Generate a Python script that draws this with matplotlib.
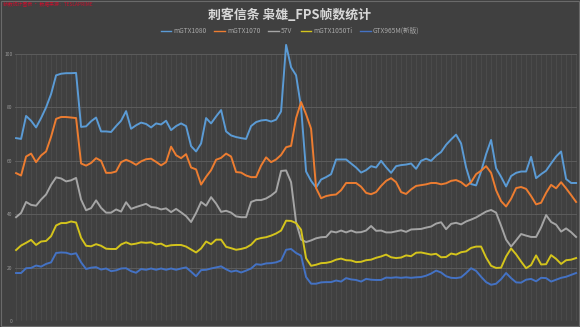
import matplotlib
matplotlib.use("Agg")
import matplotlib.pyplot as plt
from matplotlib.patches import Rectangle

plt.rcParams['font.family'] = ['Noto Sans CJK SC', 'DejaVu Sans']

title = "刺客信条 枭雄_FPS帧数统计"
watermark = "帧数统计图表 · 数据来源：TESLAPRIME"
series_names = ["mGTX1080", "mGTX1070", "57V", "mGTX1050Ti", "GTX965M(新版)"]
colors = ["#5B9BD5", "#ED7D31", "#A5A5A5", "#D4C41C", "#4472C4"]
y_ticks = [0, 20, 40, 60, 80, 100]

gtx1080 = [68.5, 68.2, 76.8, 75, 72.5, 76, 80, 85, 92, 92.6, 92.8, 92.8, 92.9, 72.7, 72.9, 74.8, 76.2, 71, 71, 70.8,
           73, 75, 78.6, 72, 73.3, 74.3, 73.8, 72.5, 74, 73.6, 75, 71.5, 73, 74, 73, 65.5, 63.5, 66.5, 76, 74,
           76.6, 79, 71, 69.5, 68.9, 68.5, 68.2, 73, 74.5, 75.1, 75.3, 74.7, 75.4, 78.5, 103.4, 95, 92, 80, 56, 52.5,
           50, 53, 53.9, 55, 60.5, 60.5, 60.5, 59, 57.5, 55.6, 56.5, 58, 57.5, 60, 57.6, 55.5, 58, 58.4, 58.6, 59,
           57, 60, 60.8, 60, 61.9, 63.3, 66, 68, 69.8, 66.5, 57.5, 51.3, 50.8, 56, 62.5, 67.8, 57.2, 54, 50.4, 54.3,
           55.5, 56, 56, 61.5, 53.5, 55, 56.3, 59, 61.6, 63.5, 53.2, 51.7, 51.7]

gtx1070 = [55.4, 54.5, 61.6, 62.7, 59.5, 62, 63.5, 69, 75.7, 76.4, 76.4, 76.2, 76, 59, 58.2, 59.2, 61, 60, 55.5, 55.5,
           56, 59.5, 60.4, 59.6, 58.5, 59.8, 60.6, 60.8, 59.6, 58.3, 59.5, 65.3, 62.1, 61, 62.5, 57.5, 56.8, 51.1, 54, 56.5,
           60.4, 61.1, 62.7, 61.6, 55.8, 55.6, 54.5, 53.9, 53.9, 58.2, 61.3, 59.5, 60.5, 62.2, 65.1, 65.6, 76, 82, 77.4, 72,
           49.8, 46, 46.8, 47.2, 47.4, 49, 51.7, 51.7, 51.7, 50.3, 48, 47.5, 48.3, 50.6, 52.5, 53.5, 52, 48.3, 47.6, 49.3,
           50.6, 50.9, 51.2, 51.7, 51.7, 51.2, 51.6, 52.5, 52.8, 52, 50.5, 52, 55, 56.3, 58, 55.5, 49, 44.9, 42.9, 45.8,
           49.8, 50.2, 49.5, 46.8, 43.7, 44.3, 48, 51, 49.7, 52, 49.7, 47.2, 44.6]

v57 = [38.9, 40.5, 44.6, 43.5, 43.2, 45.5, 47.4, 51, 53.8, 53.4, 52.3, 52.7, 53.6, 45.5, 41.5, 42.3, 45.2, 42.4, 40.6, 40.6,
       41.8, 41, 44.5, 42, 42.7, 43.3, 43.9, 42.7, 42.5, 41.8, 42.2, 40.8, 42, 40.7, 39.3, 37.1, 40.5, 44.6, 43.2, 46.4,
       44, 40.9, 41.3, 40.6, 39.2, 38.9, 38.9, 44.6, 45.3, 45.3, 45.9, 47, 48.5, 56.2, 56.4, 52, 37, 30.5, 29.6, 30.2,
       31, 31.4, 31.5, 33.6, 33.2, 33.9, 33.2, 33.9, 33.2, 33.3, 33.9, 35.6, 33.8, 33.9, 33.2, 33.2, 33.6, 34, 33.4, 34.3,
       34.4, 34.5, 35, 35.4, 36.5, 37, 34.4, 36.4, 36.8, 36.2, 37.3, 38, 38.8, 39.9, 41, 41.6, 40.6, 35.7, 30.5, 27.9,
       30.2, 32.6, 32, 31.5, 31.5, 35.1, 39.7, 37.1, 36.1, 33.5, 34.7, 33.3, 31.5]

gtx1050ti = [26.6, 28.3, 29.3, 30.4, 28.5, 29.8, 30, 31.8, 35.8, 36.7, 36.7, 37.3, 36.9, 31.2, 28.2, 28, 28.8, 28.2, 27.1, 27,
             27, 28.7, 29.5, 28.7, 29, 29.5, 29.3, 29.5, 28.7, 29, 28, 28.4, 28.5, 28.5, 27.9, 26.8, 25.7, 27.2, 29.8, 28.8,
             30.5, 30.5, 27.8, 27.3, 26.7, 27, 27.5, 28.6, 30.6, 31.1, 31.4, 32, 32.8, 33.9, 37.6, 37.5, 36.7, 34.2, 23.5, 20.7,
             21.1, 21.7, 21.8, 22.2, 23, 23.4, 22.8, 22.7, 22.1, 22.2, 22.8, 23, 23.7, 24.2, 24.9, 23.9, 23.6, 23.8, 24.6, 24.3,
             25.6, 25.7, 25.3, 24.9, 25.2, 23.9, 24, 25.3, 24.9, 25.8, 26.1, 27.4, 27.9, 27.9, 23.8, 20.7, 19.9, 20, 24.2, 27.2,
             25, 22.3, 19.8, 21, 24.6, 21.2, 21.3, 24.7, 23.3, 21.4, 22.8, 23, 23.6]

gtx965m = [18, 18, 19.8, 19.9, 20.8, 20.4, 21.4, 22, 25.5, 25.7, 25.6, 25, 25.4, 22, 19.5, 20, 20.2, 19.3, 19.7, 18.7,
           19, 19.7, 19.8, 18.7, 18.1, 19.5, 19.2, 19.7, 19.2, 19.7, 19.2, 19.7, 19.2, 19.7, 20.1, 18.5, 16.8, 19.1, 19.2, 19.7,
           20.1, 20.5, 19.4, 18.5, 18.9, 18.2, 18.9, 19.7, 21.3, 21.1, 21.6, 21.7, 22, 22.7, 26.7, 27, 25.5, 24.5, 16.5, 14,
           14, 14.5, 14.6, 14.6, 15.2, 14.8, 16.1, 15.6, 15.4, 14.8, 15.8, 15.5, 15.4, 15.4, 16.3, 16.2, 16.4, 16.2, 16.4, 16.2,
           16.4, 16.5, 17, 17.8, 18.9, 18.2, 16.8, 16.2, 16.1, 16.4, 18, 19.8, 18.8, 16.6, 14.6, 13.6, 14, 15.7, 18, 16.1,
           14.5, 14.4, 15.5, 15.8, 14.9, 16.2, 16.1, 14.8, 15.5, 16.2, 16.6, 17.3, 18]

all_series = [gtx1080, gtx1070, v57, gtx1050ti, gtx965m]
categories = list(range(1, len(gtx1080) + 1))

bg = "#404040"
fig = plt.figure(figsize=(5.8, 3.27), dpi=100, facecolor=bg)
ax = fig.add_axes([0.026, 0.018, 0.969, 0.817], facecolor=bg)

x = list(range(len(categories)))
for name, vals, c in zip(series_names, all_series, colors):
    ax.plot(x, vals, color=c, lw=1.4, label=name, clip_on=False, solid_joinstyle='round', zorder=3)

ax.set_ylim(0, 100)
ax.set_xlim(-0.2, len(categories) - 1 + 0.2)
ax.set_yticks(y_ticks)
ax.set_yticklabels([str(t) for t in y_ticks], fontsize=3.5, color="#9a9a9a")
ax.tick_params(axis='y', length=0, pad=2)
ax.set_xticks(x)
ax.tick_params(axis='x', length=0, labelbottom=False)
ax.grid(axis='y', color="#5c5c5c", lw=0.7, zorder=1)
ax.grid(axis='x', color="#4d4d4d", lw=0.6, zorder=1)
for s in ax.spines.values():
    s.set_visible(False)

fig.text(0.5, 0.955, title, ha='center', va='center', fontsize=9.3, color="#d8d8d8", fontweight='bold')
fig.text(0.006, 0.985, watermark, ha='left', va='center', fontsize=3.5, color="#c8102e")

leg = fig.legend(loc='center', bbox_to_anchor=(0.5, 0.905), ncol=5, fontsize=4.8, frameon=False,
                 handlelength=1.6, handletextpad=0.3, columnspacing=1.2, labelcolor="#a8a8a8")
for line in leg.get_lines():
    line.set_linewidth(1.0)

fig.add_artist(Rectangle((0.002, 0.004), 0.996, 0.992, transform=fig.transFigure, fill=False,
                         edgecolor="#6a6a6a", lw=0.8))

fig.savefig("out.png", dpi=100, facecolor=bg)
